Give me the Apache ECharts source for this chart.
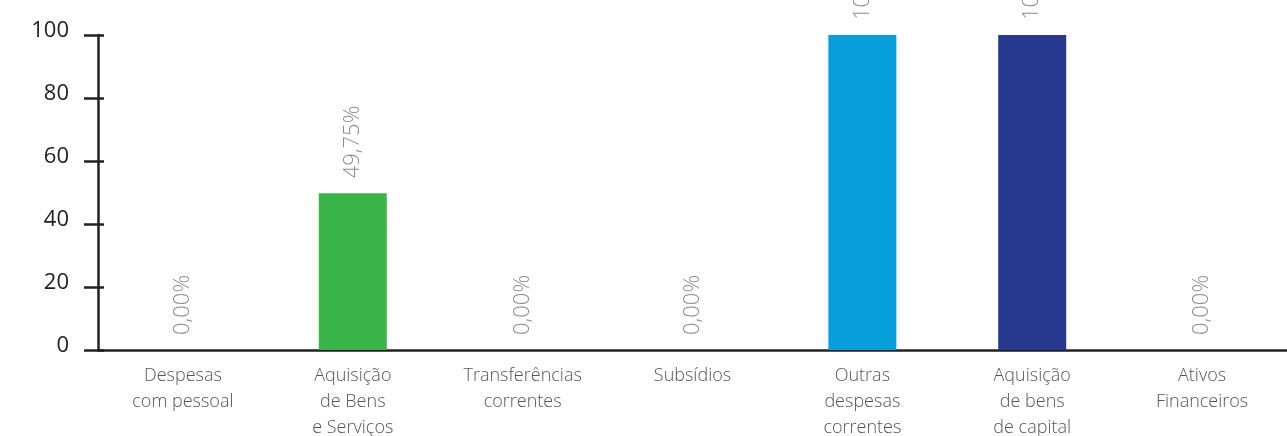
<!DOCTYPE html>
<html><head><meta charset="utf-8">
<script src="https://cdn.jsdelivr.net/npm/echarts@6/dist/echarts.min.js"></script>
<style>html,body{margin:0;padding:0;background:#fff;overflow:hidden}#c{width:1287px;height:436px}</style>
</head><body><div id="c"></div>
<script>
const categories = ["Despesas\ncom pessoal", "Aquisição\nde Bens\ne Serviços", "Transferências\ncorrentes", "Subsídios", "Outras\ndespesas\ncorrentes", "Aquisição\nde bens\nde capital", "Ativos\nFinanceiros"];
const values = [0, 49.75, 0, 0, 100, 100, 0];
const barColors = ["#4a6b2a", "#3AB54A", "#1a5a4a", "#2a4a6a", "#079FDB", "#27388F", "#5a2a6a"];
const yTicks = [0, 20, 40, 60, 80, 100];

const chart = echarts.init(document.getElementById('c'));
const fmt = v => v.toFixed(2).replace('.', ',') + '%';
const axisColor = '#222';
chart.setOption({
  animation: false,
  grid: {left: 98, right: 0, top: 35, bottom: 86, containLabel: false, outerBoundsMode: 'none'},
  xAxis: {
    type: 'category', data: categories,
    axisLine: {lineStyle: {color: axisColor, width: 2.5}},
    axisTick: {inside: true, length: 9, lineStyle: {color: axisColor, width: 2.5}},
    axisLabel: {color: '#555', fontSize: 18, lineHeight: 26, margin: 13, fontFamily: 'Open Sans', fontWeight: 300, interval: 0}
  },
  yAxis: [{
    type: 'value', min: yTicks[0], max: yTicks[yTicks.length - 1], interval: 20,
    splitLine: {show: false},
    axisLine: {show: true, lineStyle: {color: axisColor, width: 2.5}},
    axisTick: {show: true, length: 14, lineStyle: {color: axisColor, width: 2.5}},
    axisLabel: {color: '#222', fontSize: 22, margin: 29, fontFamily: 'Open Sans', verticalAlign: 'bottom', lineHeight: 9}
  }, {
    type: 'value', min: yTicks[0], max: yTicks[yTicks.length - 1], interval: 20, position: 'left',
    splitLine: {show: false},
    axisLine: {show: false},
    axisTick: {show: true, inside: true, length: 6, lineStyle: {color: axisColor, width: 2.5}},
    axisLabel: {show: false}
  }],
  series: [{
    type: 'bar', barWidth: 68, yAxisIndex: 0,
    data: values.map((v, i) => ({value: v, itemStyle: {color: barColors[i]}})),
    label: {
      show: true, position: 'top', rotate: 90, align: 'left', verticalAlign: 'middle', distance: 15,
      color: '#8c8c8c', fontSize: 22, fontFamily: 'Open Sans', fontWeight: 300,
      formatter: p => fmt(p.value)
    }
  }]
});
</script></body></html>
